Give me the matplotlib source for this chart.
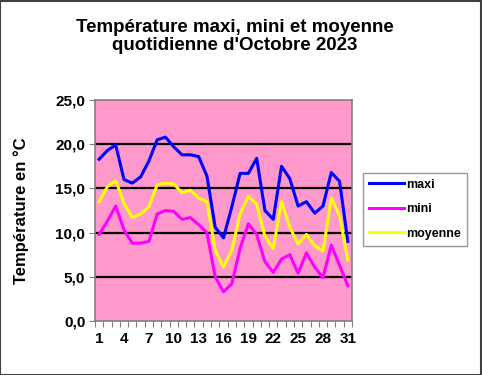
import matplotlib
matplotlib.use("Agg")
import matplotlib.pyplot as plt
from matplotlib.patches import Rectangle

days = list(range(1, 32))
maxi = [18.3, 19.3, 19.9, 16.0, 15.6, 16.3, 18.1, 20.5, 20.8, 19.7, 18.8, 18.8, 18.6, 16.4,
        10.6, 9.4, 12.9, 16.7, 16.7, 18.4, 12.5, 11.5, 17.5, 16.1, 13.0, 13.5, 12.2, 13.0,
        16.8, 15.8, 9.0]
mini = [9.8, 11.3, 13.0, 10.3, 8.8, 8.8, 9.0, 12.1, 12.5, 12.4, 11.5, 11.7, 10.9, 10.0,
        5.0, 3.3, 4.2, 8.2, 11.0, 9.8, 6.7, 5.5, 7.0, 7.5, 5.4, 7.7, 6.1, 4.9, 8.6, 6.3, 4.0]
moyenne = [13.5, 15.2, 15.9, 13.3, 11.7, 12.1, 12.9, 15.4, 15.6, 15.5, 14.5, 14.8, 13.9, 13.5,
           8.0, 6.1, 8.0, 12.1, 14.1, 13.2, 9.6, 8.2, 13.5, 10.6, 8.7, 9.8, 8.5, 7.9, 13.9,
           11.9, 6.9]
yticks = [0, 5, 10, 15, 20, 25]
xlabels_days = list(range(1, 32, 3))

plt.rcParams['font.family'] = ['Liberation Sans', 'DejaVu Sans']
plt.rcParams['font.weight'] = 'bold'

fig = plt.figure(figsize=(4.82, 3.75), dpi=100)
fig.patch.set_facecolor('white')
fig.add_artist(Rectangle((0.001, 0.001), 0.997, 0.996, transform=fig.transFigure,
                         fill=False, edgecolor='#404040', linewidth=1.5))

ax = fig.add_axes([95/482, 1 - 321/375, (352-95)/482, (321-100)/375])
ax.set_facecolor('#FF99CC')

for y in yticks[1:-1]:
    ax.axhline(y, color='black', linewidth=1.6, zorder=1)

ax.plot(days, maxi, color='#0000FF', linewidth=2.2, label='maxi', zorder=3)
ax.plot(days, mini, color='#FF00FF', linewidth=2.2, label='mini', zorder=3)
ax.plot(days, moyenne, color='#FFFF00', linewidth=2.2, label='moyenne', zorder=3)

ax.set_xlim(0.5, 31.5)
ax.set_ylim(0, 25)
ax.set_yticks(yticks)
ax.set_yticklabels([f"{v:.1f}".replace('.', ',') for v in yticks], fontsize=11, fontweight='bold')
ax.set_xticks([d + 0.5 for d in range(0, 32)], minor=False)
ax.set_xticklabels([])
ax.set_xticks(xlabels_days, minor=True)
ax.set_xticklabels([str(d) for d in xlabels_days], minor=True, fontsize=11, fontweight='bold')
ax.tick_params(axis='x', which='major', length=4, color='#808080', direction='out')
ax.tick_params(axis='x', which='minor', length=0, pad=8)
ax.tick_params(axis='y', length=4, color='#808080', direction='out', pad=3)

for s in ['top', 'left', 'bottom', 'right']:
    ax.spines[s].set_color('#808080')
    ax.spines[s].set_linewidth(1.2)

ax.set_ylabel('Température en °C', fontsize=12, fontweight='bold', labelpad=19)

fig.text(0.487, 0.95, "Température maxi, mini et moyenne\nquotidienne d'Octobre 2023",
         ha='center', va='top', fontsize=13.5, fontweight='bold', linespacing=1.12)

leg = fig.legend(loc='upper left', bbox_to_anchor=(363/482, 1 - 173/375), fontsize=9,
                 frameon=True, fancybox=False, edgecolor='#808080', handlelength=2.8,
                 handletextpad=0.2, labelspacing=1.0, borderpad=0.46, borderaxespad=0)
leg.get_frame().set_linewidth(1.0)
for t in leg.get_texts():
    t.set_fontweight('bold')

fig.savefig('out.png', dpi=100)
